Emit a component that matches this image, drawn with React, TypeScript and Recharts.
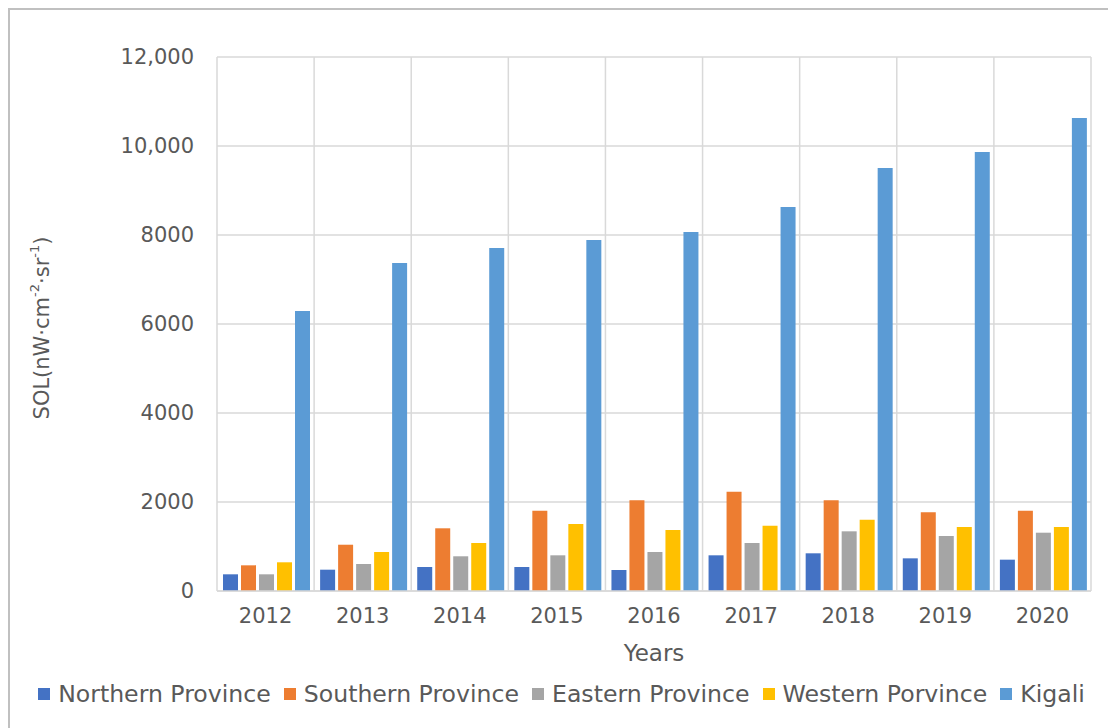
import {
  BarChart,
  Bar,
  XAxis,
  YAxis,
  CartesianGrid,
  Legend,
  Label,
} from "recharts";

// Sum of lights per province, 2012–2020
const YEARS = ["2012", "2013", "2014", "2015", "2016", "2017", "2018", "2019", "2020"];
const NORTHERN = [375, 479, 539, 539, 472, 802, 847, 734, 704];
const SOUTHERN = [577, 1040, 1409, 1805, 2038, 2232, 2038, 1768, 1805];
const EASTERN = [375, 607, 780, 802, 876, 1079, 1341, 1236, 1310];
const WESTERN = [645, 876, 1079, 1506, 1371, 1468, 1603, 1438, 1438];
const KIGALI = [6292, 7370, 7708, 7888, 8067, 8629, 9506, 9865, 10629];
const Y_TICKS = [0, 2000, 4000, 6000, 8000, 10000, 12000];

const SERIES = [
  { key: "northern", name: "Northern Province", color: "#4472C4", values: NORTHERN },
  { key: "southern", name: "Southern Province", color: "#ED7D31", values: SOUTHERN },
  { key: "eastern", name: "Eastern Province", color: "#A5A5A5", values: EASTERN },
  { key: "western", name: "Western Porvince", color: "#FFC000", values: WESTERN },
  { key: "kigali", name: "Kigali", color: "#5B9BD5", values: KIGALI },
];

const data = YEARS.map((year, i) => {
  const row: Record<string, string | number> = { year };
  SERIES.forEach((s) => (row[s.key] = s.values[i]));
  return row;
});

const FONT = "'DejaVu Sans', sans-serif";
const TEXT = "#595959";
const GRID = "#d9d9d9";

// Excel only groups thousands from 10,000 up
const fmtTick = (v: number) => (v >= 10000 ? v.toLocaleString("en-US") : String(v));

function YTitle({ viewBox }: any) {
  const cx = 34;
  const cy = viewBox.y + viewBox.height / 2 + 4;
  return (
    <text
      x={cx}
      y={cy}
      transform={`rotate(-90 ${cx} ${cy})`}
      textAnchor="middle"
      dominantBaseline="central"
      fill={TEXT}
      fontSize={21}
      fontFamily={FONT}
    >
      SOL(nW·cm
      <tspan baselineShift="super" fontSize={13}>-2</tspan>
      ·sr
      <tspan baselineShift="super" fontSize={13}>-1</tspan>)
    </text>
  );
}

function LegendRow() {
  return (
    <div
      style={{
        display: "flex",
        justifyContent: "center",
        alignItems: "center",
        height: 40,
        paddingLeft: 24,
        fontFamily: FONT,
        fontSize: 23.6,
        color: TEXT,
        whiteSpace: "nowrap",
      }}
    >
      {SERIES.map((s, i) => (
        <div
          key={s.key}
          style={{ display: "flex", alignItems: "center", marginRight: i < SERIES.length - 1 ? 13 : 0 }}
        >
          <span style={{ width: 12, height: 12, background: s.color, marginRight: 8 }} />
          <span>{s.name}</span>
        </div>
      ))}
    </div>
  );
}

export default function App() {
  return (
    <div
      style={{
        position: "relative",
        width: 1108,
        height: 720,
        boxShadow: "inset 2px 2px 0 #c0c0c0",
        background: "#fff",
      }}
    >
      <BarChart
        width={1108}
        height={720}
        data={data}
        margin={{ top: 49, right: 25, left: 0, bottom: 14 }}
        barCategoryGap={6}
        barGap={3}
      >
        <CartesianGrid
          stroke={GRID}
          strokeWidth={1.5}
          verticalCoordinatesGenerator={({ offset }: any) =>
            YEARS.map((_, i) => offset.left + (i * offset.width) / YEARS.length).concat(
              offset.left + offset.width
            )
          }
        />
        <XAxis
          dataKey="year"
          height={83}
          axisLine={{ stroke: GRID, strokeWidth: 1.5 }}
          tickLine={false}
          tickSize={0}
          tickMargin={17}
          tick={{ fill: TEXT, fontSize: 21, fontFamily: FONT }}
        >
          <Label
            value="Years"
            position="insideBottom"
            offset={13}
            fill={TEXT}
            fontSize={23}
            fontFamily={FONT}
          />
        </XAxis>
        <YAxis
          width={209}
          domain={[0, 12000]}
          ticks={Y_TICKS}
          interval={0}
          axisLine={false}
          tickLine={false}
          tickSize={0}
          tickMargin={23}
          tickFormatter={fmtTick}
          tick={{ fill: TEXT, fontSize: 21, fontFamily: FONT }}
        >
          <Label content={<YTitle />} />
        </YAxis>
        <Legend verticalAlign="bottom" content={() => <LegendRow />} />
        {SERIES.map((s) => (
          <Bar key={s.key} dataKey={s.key} name={s.name} fill={s.color} isAnimationActive={false} />
        ))}
      </BarChart>
    </div>
  );
}
